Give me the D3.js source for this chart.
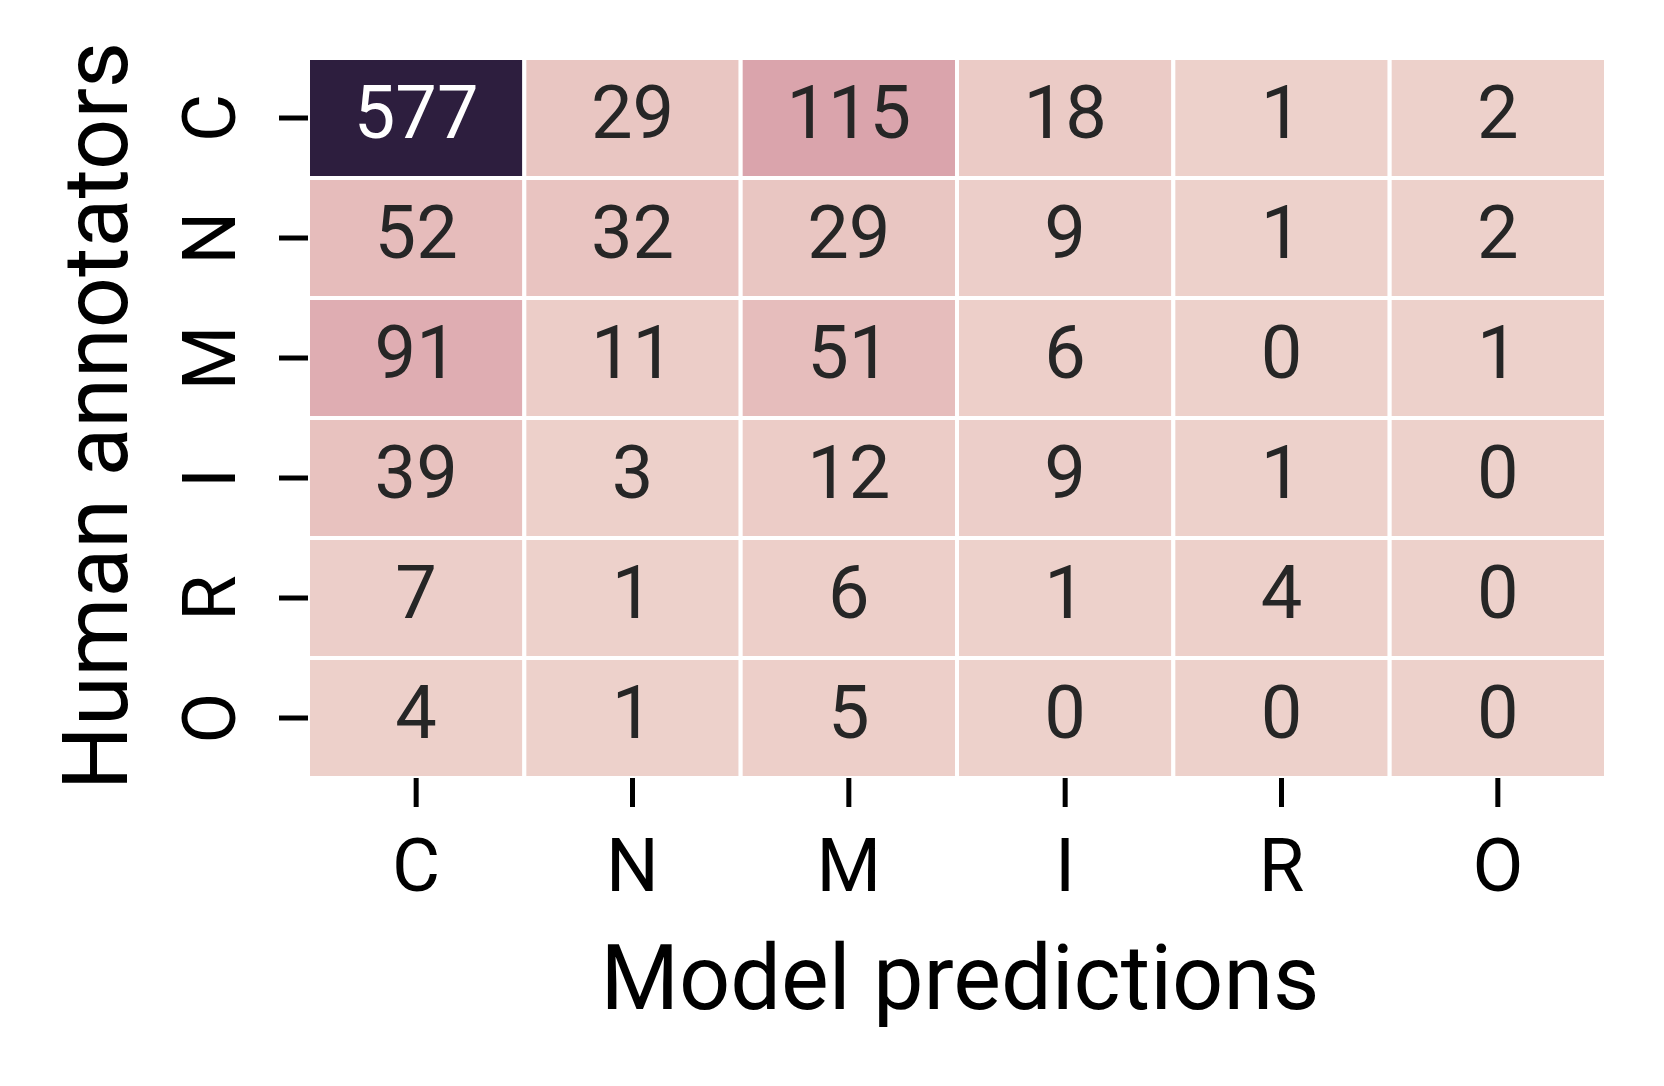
<!DOCTYPE html>
<html>
<head>
<meta charset="utf-8">
<script src="https://cdn.jsdelivr.net/npm/d3@7"></script>
<style>
  html, body { margin: 0; padding: 0; background: #ffffff; }
  svg { display: block; font-family: Roboto, "Noto Sans", sans-serif; }
</style>
</head>
<body>
<svg id="chart" width="1664" height="1086"></svg>
<script>
// ---- Data ----
const humanLabels = ["C", "N", "M", "I", "R", "O"];   // rows (Human annotators)
const modelLabels = ["C", "N", "M", "I", "R", "O"];   // columns (Model predictions)
const rowC = [577, 29, 115, 18, 1, 2];
const rowN = [52, 32, 29, 9, 1, 2];
const rowM = [91, 11, 51, 6, 0, 1];
const rowI = [39, 3, 12, 9, 1, 0];
const rowR = [7, 1, 6, 1, 4, 0];
const rowO = [4, 1, 5, 0, 0, 0];
const matrix = [rowC, rowN, rowM, rowI, rowR, rowO];
const xTitle = "Model predictions";
const yTitle = "Human annotators";

// ---- seaborn cubehelix_palette(as_cmap=True) ----
function cubehelixChannel(p0, p1, x, gamma = 1.0, start = 0, rot = 0.4, hue = 0.8) {
  const xg = Math.pow(x, gamma);
  const a = hue * xg * (1 - xg) / 2;
  const phi = 2 * Math.PI * (start / 3 + rot * x);
  return Math.max(0, Math.min(1, xg + a * (p0 * Math.cos(phi) + p1 * Math.sin(phi))));
}
const chLight = 0.85, chDark = 0.15;
const lut = d3.range(256).map(i => {
  const x = chLight + (chDark - chLight) * i / 255;
  return [
    cubehelixChannel(-0.14861, 1.78277, x),
    cubehelixChannel(-0.29227, -0.90649, x),
    cubehelixChannel(1.97294, 0.0, x)
  ];
});
const flat = matrix.flat();
const vmin = d3.min(flat), vmax = d3.max(flat);
const norm = d3.scaleLinear().domain([vmin, vmax]).range([0, 1]).clamp(true);
function cmap(v) {
  const t = norm(v);
  const idx = Math.min(255, Math.max(0, Math.floor(t * 256)));
  return lut[idx];
}
function toHex(c) { return d3.rgb(c[0] * 255, c[1] * 255, c[2] * 255).formatHex(); }
function relLum(c) {
  const lin = c.map(v => v <= 0.03928 ? v / 12.92 : Math.pow((v + 0.055) / 1.055, 2.4));
  return 0.2126 * lin[0] + 0.7152 * lin[1] + 0.0722 * lin[2];
}

// ---- Layout ----
const svg = d3.select("#chart");
const plotLeft = 308, plotRight = 1606, plotTop = 58, plotBottom = 778;

const xScale = d3.scaleBand().domain(modelLabels).range([plotLeft, plotRight]).padding(0);
const yScale = d3.scaleBand().domain(humanLabels).range([plotTop, plotBottom]).padding(0);

const cells = [];
matrix.forEach((row, i) => row.forEach((v, j) => cells.push({ r: humanLabels[i], c: modelLabels[j], v })));

svg.append("g").selectAll("rect").data(cells).join("rect")
  .attr("x", d => xScale(d.c))
  .attr("y", d => yScale(d.r))
  .attr("width", xScale.bandwidth())
  .attr("height", yScale.bandwidth())
  .attr("fill", d => toHex(cmap(d.v)))
  .attr("stroke", "#ffffff")
  .attr("stroke-width", 4);

svg.append("g").selectAll("text").data(cells).join("text")
  .attr("x", d => xScale(d.c) + xScale.bandwidth() / 2)
  .attr("y", d => yScale(d.r) + yScale.bandwidth() / 2 + 20)
  .attr("text-anchor", "middle")
  .attr("font-size", 74)
  .attr("fill", d => relLum(cmap(d.v)) > 0.408 ? "#262626" : "#ffffff")
  .text(d => d.v);

// ---- Axes ----
const xAxis = svg.append("g")
  .attr("transform", `translate(0,${plotBottom})`)
  .call(d3.axisBottom(xScale).tickSize(29).tickSizeOuter(0));
xAxis.select(".domain").remove();
xAxis.selectAll(".tick line").attr("stroke", "#000").attr("stroke-width", 5);
xAxis.selectAll(".tick text")
  .attr("y", 113).attr("dy", null)
  .attr("font-size", 74)
  .attr("font-family", "Roboto, 'Noto Sans', sans-serif")
  .attr("fill", "#000");

const yAxis = svg.append("g")
  .attr("transform", `translate(${plotLeft},0)`)
  .call(d3.axisLeft(yScale).tickSize(29).tickSizeOuter(0));
yAxis.select(".domain").remove();
yAxis.selectAll(".tick line").attr("stroke", "#000").attr("stroke-width", 5);
yAxis.selectAll(".tick text")
  .attr("x", null).attr("dy", null)
  .attr("text-anchor", "middle")
  .attr("transform", "translate(-73,0) rotate(-90)")
  .attr("font-size", 74)
  .attr("font-family", "Roboto, 'Noto Sans', sans-serif")
  .attr("fill", "#000");

// ---- Axis titles ----
svg.append("text")
  .attr("x", (plotLeft + plotRight) / 2 + 3)
  .attr("y", 1009)
  .attr("text-anchor", "middle")
  .attr("font-size", 90)
  .attr("fill", "#000")
  .text(xTitle);

svg.append("text")
  .attr("transform", `translate(127,${(plotTop + plotBottom) / 2 - 2}) rotate(-90)`)
  .attr("text-anchor", "middle")
  .attr("font-size", 90)
  .attr("fill", "#000")
  .text(yTitle);
</script>
</body>
</html>
